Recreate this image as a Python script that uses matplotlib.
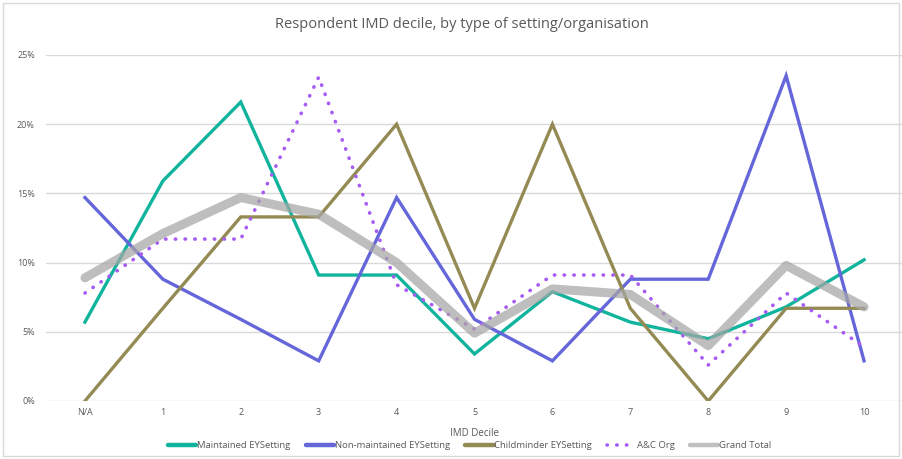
import matplotlib.pyplot as plt
from matplotlib.lines import Line2D
from matplotlib.patches import Rectangle
from matplotlib.ticker import FuncFormatter

categories = ["N/A", "1", "2", "3", "4", "5", "6", "7", "8", "9", "10"]

maintained = [5.7, 15.9, 21.6, 9.1, 9.1, 3.4, 7.9, 5.7, 4.5, 6.8, 10.2]
non_maintained = [14.7, 8.8, 5.9, 2.9, 14.7, 5.9, 2.9, 8.8, 8.8, 23.5, 2.9]
childminder = [0, 6.7, 13.3, 13.3, 20, 6.7, 20, 6.7, 0, 6.7, 6.7]
ac_org = [7.8, 11.7, 11.7, 23.4, 8.4, 5.2, 9.1, 9.1, 2.6, 7.8, 3.9]
grand_total = [8.9, 12.1, 14.7, 13.5, 10.0, 4.9, 8.1, 7.7, 4.0, 9.8, 6.8]

plt.rcParams["font.family"] = ["Open Sans", "DejaVu Sans"]
text_col = "#595959"

fig = plt.figure(figsize=(9.03, 4.59), dpi=100)
ax = fig.add_axes([46 / 903, 1 - 401 / 459, 857 / 903, 346 / 459])

x = range(len(categories))
ax.plot(x, maintained, color="#10B39C", lw=2.4, solid_joinstyle="miter", zorder=3)
ax.plot(x, non_maintained, color="#6466D9", lw=2.4, solid_joinstyle="miter", zorder=3)
ax.plot(x, childminder, color="#948A54", lw=2.4, solid_joinstyle="miter", zorder=3)
ax.plot(x, ac_org, color="#A65BF2", lw=2.6, linestyle=(0, (0.1, 2.6)),
        dash_capstyle="round", zorder=3)
ax.plot(x, grand_total, color="#A6A6A6", alpha=0.72, lw=6.5,
        solid_capstyle="round", solid_joinstyle="round", zorder=4)

ax.set_xlim(-0.5, 10.5)
ax.set_ylim(0, 25)
ax.set_yticks([0, 5, 10, 15, 20, 25])
ax.yaxis.set_major_formatter(FuncFormatter(lambda v, p: f"{v:.0f}%"))
ax.set_xticks(list(x))
ax.set_xticklabels(categories)
ax.grid(axis="y", color="#D9D9D9", lw=1)
ax.set_axisbelow(True)
for s in ax.spines.values():
    s.set_visible(False)
ax.tick_params(length=0, colors=text_col, labelsize=6.5, pad=8)
ax.tick_params(axis="x", pad=5)

ax.set_xlabel("IMD Decile", color=text_col, fontsize=7, labelpad=8)
fig.text(0.512, 1 - 25 / 459, "Respondent IMD decile, by type of setting/organisation",
         ha="center", va="center", color=text_col, fontsize=10.5)

handles = [
    Line2D([], [], color="#10B39C", lw=3.2, solid_capstyle="round"),
    Line2D([], [], color="#6466D9", lw=3.2, solid_capstyle="round"),
    Line2D([], [], color="#948A54", lw=3.2, solid_capstyle="round"),
    Line2D([], [], color="#A65BF2", lw=2.6, linestyle=(0, (0.1, 2.6)),
           dash_capstyle="round"),
    Line2D([], [], color="#C0C0C0", lw=3.2, solid_capstyle="round"),
]
labels = ["Maintained EYSetting", "Non-maintained EYSetting",
          "Childminder EYSetting", "A&C Org", "Grand Total"]
fig.legend(handles, labels, loc="center", bbox_to_anchor=(0.52, 1 - 446 / 459),
           ncol=5, frameon=False, fontsize=6.8, labelcolor=text_col,
           handlelength=3.0, handletextpad=0.1, columnspacing=1.6)

fig.patches.append(Rectangle((3 / 903, 3 / 459), 896 / 903, 453 / 459,
                             transform=fig.transFigure, fill=False,
                             edgecolor="#D9D9D9", lw=1))

fig.savefig("out.png", dpi=100)
